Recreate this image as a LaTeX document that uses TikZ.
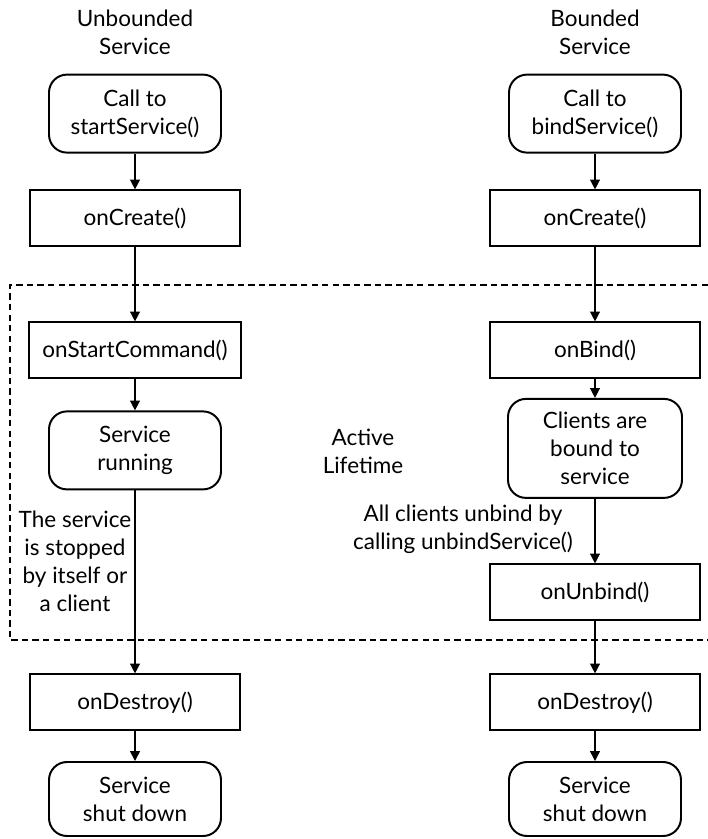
\documentclass[tikz,border=0pt]{standalone}
\usepackage{fontspec}
\setmainfont{Lato}
\usetikzlibrary{arrows.meta}
\begin{document}
\begin{tikzpicture}[
    every node/.style={align=center, font=\fontsize{16}{20}\selectfont, inner sep=0pt},
    box/.style={draw, line width=1.4pt, minimum width=5.25cm, minimum height=1.4cm},
    rbox/.style={draw, line width=1.4pt, rounded corners=0.45cm, minimum width=4.3cm, minimum height=1.95cm},
    flow/.style={-{Triangle[length=7pt,width=7pt]}, line width=1pt}]
  \useasboundingbox (0,0) rectangle (17.7,-20.975);
  % unbounded service
  \node (titleL) at (3.375,-0.8) {Unbounded\\Service};
  \node[rbox] (startL) at (3.375,-2.84) {Call to\\startService()};
  \node[box] (createL) at (3.375,-5.46) {onCreate()};
  \node[box, minimum width=5.3cm] (cmdL) at (3.375,-8.76) {onStartCommand()};
  \node[rbox] (runL) at (3.375,-11.26) {Service\\running};
  \node[box] (destroyL) at (3.375,-17.56) {onDestroy()};
  \node[rbox, minimum height=1.85cm] (downL) at (3.375,-19.975) {Service\\shut down};
  % bounded service
  \node (titleR) at (14.875,-0.8) {Bounded\\Service};
  \node[rbox] (startR) at (14.875,-2.84) {Call to\\bindService()};
  \node[box] (createR) at (14.875,-5.46) {onCreate()};
  \node[box] (bindR) at (14.875,-8.76) {onBind()};
  \node[rbox, minimum width=4.35cm, minimum height=2.475cm] (clientsR) at (14.875,-11.21) {Clients are\\bound to\\service};
  \node[box] (unbindR) at (14.875,-14.81) {onUnbind()};
  \node[box] (destroyR) at (14.875,-17.56) {onDestroy()};
  \node[rbox, minimum height=1.85cm] (downR) at (14.875,-19.975) {Service\\shut down};
  % active lifetime, open to the right
  \draw[line width=1.3pt, dash pattern=on 4.5pt off 3pt] (17.7,-7.125) -- (0.25,-7.125) -- (0.25,-16) -- (17.7,-16);
  \node (active) at (9.075,-11.29) {Active\\Lifetime};
  \node (stopped) at (1.875,-14.04) {The service\\is stopped\\by itself or\\a client};
  \node (unbindAll) at (11.575,-13.225) {All clients unbind by\\calling unbindService()};
  \draw[flow] (startL) -- (createL);
  \draw[flow] (createL) -- (cmdL);
  \draw[flow] (cmdL) -- (runL);
  \draw[flow] (runL) -- (destroyL);
  \draw[flow] (destroyL) -- (downL);
  \draw[flow] (startR) -- (createR);
  \draw[flow] (createR) -- (bindR);
  \draw[flow] (bindR) -- (clientsR);
  \draw[flow] (clientsR) -- (unbindR);
  \draw[flow] (unbindR) -- (destroyR);
  \draw[flow] (destroyR) -- (downR);
\end{tikzpicture}
\end{document}
